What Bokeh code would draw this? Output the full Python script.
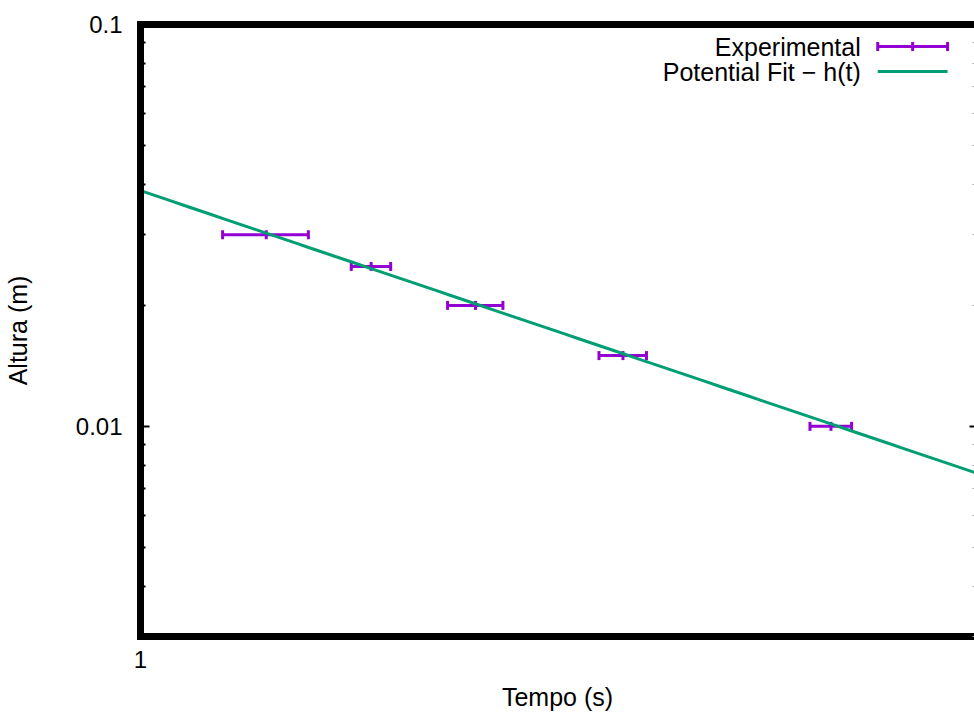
import numpy as np
from bokeh.plotting import figure
from bokeh.models import (FixedTicker, Range1d, LinearScale, Whisker, TeeHead,
                          ColumnDataSource, LogAxis)
from bokeh.core.properties import value
from bokeh.embed import file_html
from bokeh.resources import INLINE

# ---- data ----
tempo = [1.106, 1.203, 1.308, 1.472, 1.739]          # s
tempo_err = [0.038, 0.019, 0.029, 0.028, 0.029]     # s
altura = [0.030, 0.025, 0.020, 0.015, 0.010]        # m
fit_a = 0.0386
fit_b = -2.416
x_lim = [1.0, 1.951]
y_lim = [0.003, 0.1]
x_ticks = [1]
y_ticks = [0.01, 0.1]
y_minor = [0.003, 0.004, 0.005, 0.006, 0.007, 0.008, 0.009,
           0.02, 0.03, 0.04, 0.05, 0.06, 0.07, 0.08, 0.09]
series_names = ["Experimental", "Potential Fit \u2212 h(t)"]

PURPLE = "#9400D3"
GREEN = "#009E73"
FONT = "Liberation Sans"
FS = "25px"
FS_TICK = "24px"
FRAME_W = 836
FRAME_H = 612

src = ColumnDataSource(dict(
    t=tempo, h=altura,
    lo=[t - e for t, e in zip(tempo, tempo_err)],
    hi=[t + e for t, e in zip(tempo, tempo_err)],
))

p = figure(width=974, height=718, x_axis_type="log", y_axis_type="log",
           x_range=Range1d(*x_lim), y_range=Range1d(*y_lim),
           output_backend="svg", toolbar_location=None,
           min_border_left=138, min_border_right=0, min_border_top=24,
           min_border_bottom=82, outline_line_color=None,
           background_fill_color="white", border_fill_color="white")
p.xgrid.visible = False
p.ygrid.visible = False

# legend helper pixel ranges (frame relative, y downward)
p.extra_x_ranges = {"px": Range1d(0, FRAME_W)}
p.extra_x_scales = {"px": LinearScale()}
p.extra_y_ranges = {"py": Range1d(FRAME_H, 0)}
p.extra_y_scales = {"py": LinearScale()}

# axes
xa = p.xaxis[0]
xa.ticker = FixedTicker(ticks=x_ticks, minor_ticks=[])
xa.major_label_overrides = {1: "1"}
xa.axis_label = "Tempo (s)"
ya = p.yaxis[0]
ya.ticker = FixedTicker(ticks=y_ticks, minor_ticks=y_minor)
ya.major_label_overrides = {0.01: "0.01", 0.1: "0.1"}
ya.axis_label = "Altura (m)"
for ax in (xa, ya):
    ax.axis_line_width = 7
    ax.axis_line_color = "black"
    ax.axis_line_cap = "square"
    ax.major_tick_in = 9
    ax.major_tick_out = 0
    ax.major_tick_line_width = 2
    ax.major_tick_line_color = "black"
    ax.minor_tick_in = 5
    ax.minor_tick_out = 0
    ax.minor_tick_line_width = 2
    ax.minor_tick_line_color = "black"
    ax.major_label_text_font = FONT
    ax.major_label_text_font_size = FS_TICK
    ax.major_label_text_color = "black"
    ax.axis_label_text_font = FONT
    ax.axis_label_text_font_size = FS
    ax.axis_label_text_font_style = "normal"
    ax.axis_label_text_color = "black"
xa.major_label_standoff = 14
xa.axis_label_standoff = 12
ya.major_label_standoff = 18
ya.axis_label_standoff = 41

top = LogAxis(ticker=FixedTicker(ticks=[], minor_ticks=[]),
              axis_line_width=7, axis_line_color="black", axis_line_cap="square",
              major_tick_in=0, major_tick_out=0, minor_tick_in=0, minor_tick_out=0,
              major_label_standoff=0)
p.add_layout(top, "above")
right = LogAxis(ticker=FixedTicker(ticks=y_ticks, minor_ticks=y_minor),
                axis_line_color=None,
                major_tick_in=5, major_tick_out=0, major_tick_line_width=2,
                minor_tick_in=2, minor_tick_out=0, minor_tick_line_width=1,
                minor_tick_line_color="#aaaaaa",
                major_label_overrides={0.01: "", 0.1: ""},
                major_label_standoff=0)
p.add_layout(right, "right")

# error bars
head = dict(size=9, line_color=PURPLE, line_width=3)
p.add_layout(Whisker(source=src, base="h", lower="lo", upper="hi", dimension="width",
                     line_color=PURPLE, line_width=3,
                     lower_head=TeeHead(**head), upper_head=TeeHead(**head)))
p.scatter("t", "h", source=src, marker="dash", angle=np.pi / 2, size=9,
          line_color=PURPLE, line_width=3)

# fit curve
t_fit = np.geomspace(x_lim[0], x_lim[1], 60)
p.line(t_fit, fit_a * t_fit ** fit_b, line_color=GREEN, line_width=3)

# legend (drawn manually: text on the left, sample on the right)
LX_TEXT, LX0, LX1 = 722, 739, 809
LY = [22, 47]
p.text(x=[LX_TEXT, LX_TEXT], y=LY, text=series_names, x_range_name="px",
       y_range_name="py", text_font=value(FONT), text_font_size=value(FS),
       text_align="right", text_baseline="middle", text_color="black")
p.segment(x0=[LX0], y0=[LY[0]], x1=[LX1], y1=[LY[0]], x_range_name="px",
          y_range_name="py", line_color=PURPLE, line_width=3)
p.scatter(x=[LX0, (LX0 + LX1) / 2, LX1], y=[LY[0]] * 3, x_range_name="px",
          y_range_name="py", marker="dash", angle=np.pi / 2, size=9,
          line_color=PURPLE, line_width=3)
p.segment(x0=[LX0], y0=[LY[1]], x1=[LX1], y1=[LY[1]], x_range_name="px",
          y_range_name="py", line_color=GREEN, line_width=3)

open("out.html", "w").write(file_html(p, INLINE))
